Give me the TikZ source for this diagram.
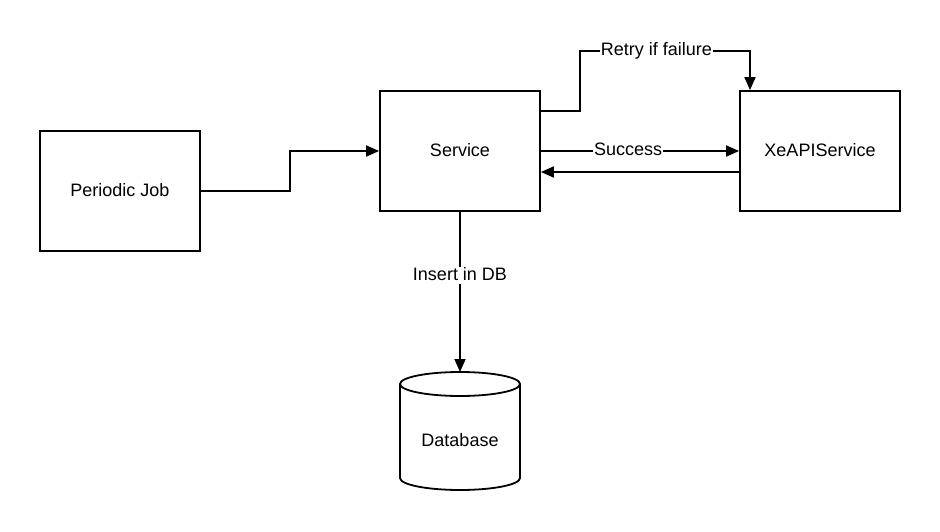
\documentclass[tikz,border=0pt]{standalone}
\usepackage{fontspec}
\setmainfont{Liberation Sans}
\usetikzlibrary{arrows.meta}
\begin{document}
\begin{tikzpicture}[x=1pt,y=-1pt,
  every node/.style={font=\fontsize{18}{20}\selectfont},
  block/.style={draw,line width=1.8pt,minimum width=160pt,minimum height=120pt,inner sep=0pt,
    text depth=2pt},
  link/.style={line width=1.8pt,-{Triangle[length=13pt,width=11pt]}},
  tag/.style={fill=white,inner sep=1pt,text depth=3pt,text height=12pt}]
\useasboundingbox (0,0) rectangle (940,532);

% boxes
\node[block] (job) at (120,191) {Periodic Job};
\node[block] (svc) at (460,151) {Service};
\node[block] (api) at (820,151) {XeAPIService};

% database cylinder
\coordinate (dbtop) at (460,372);
\draw[line width=1.8pt,fill=white] (400,384) -- (400,478)
  arc[start angle=180,end angle=360,x radius=60pt,y radius=12pt] -- (520,384);
\draw[line width=1.8pt] (460,384) ellipse[x radius=60pt,y radius=12pt];
\node (db) at (460,441) [text depth=2pt] {Database};

% connectors
\draw[link] (job.east |- 0,191) -- (290,191) -- (290,151) -- (svc.west);
\draw[link] (svc.east |- 0,111) -- (580,111) -- (580,51)
  -- node[tag,pos=0.45] {Retry if failure} (750,51) -- (api.north -| 750,0);
\draw[link] (svc.east) -- node[tag,pos=0.44] {Success} (api.west);
\draw[link] (api.west |- 0,172) -- (svc.east |- 0,172);
\draw[link] (svc.south) -- node[tag,pos=0.40] {Insert in DB} (dbtop);
\end{tikzpicture}
\end{document}
